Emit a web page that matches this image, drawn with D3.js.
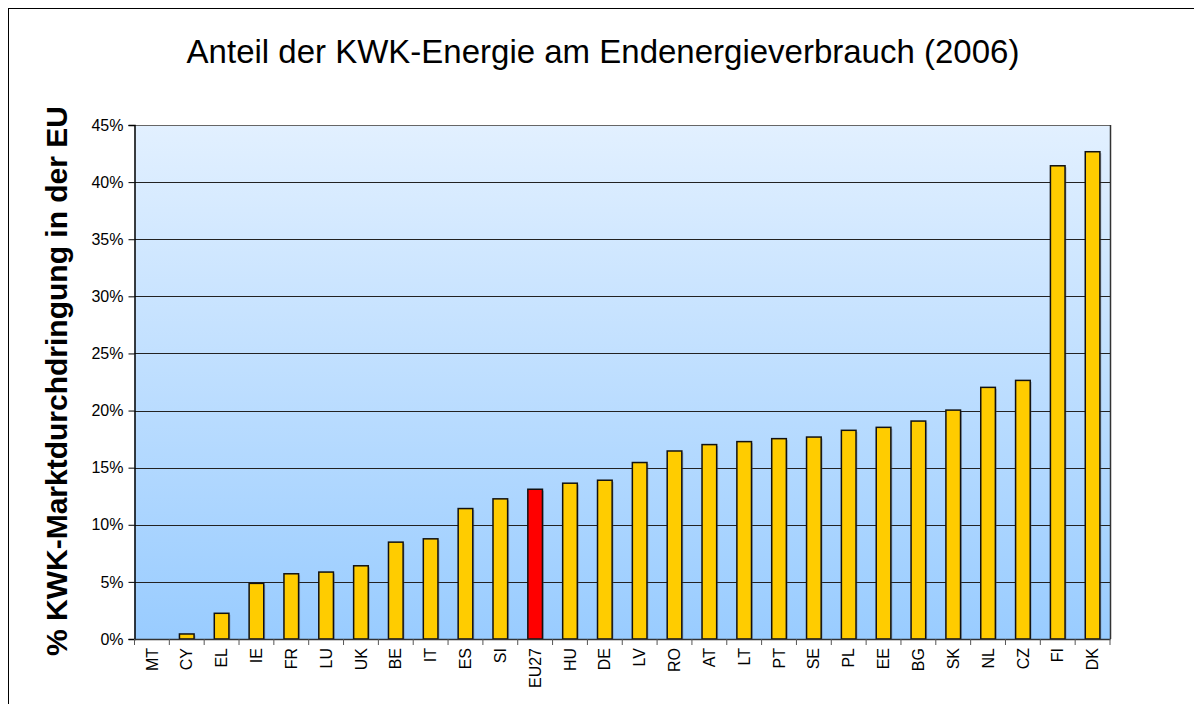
<!DOCTYPE html>
<html><head><meta charset="utf-8">
<script src="https://cdn.jsdelivr.net/npm/d3@7"></script>
<style>body{margin:0;background:#fff}svg{display:block}text{font-family:"Liberation Sans",Arial,sans-serif}</style>
</head><body><svg id="c" width="1194" height="704"></svg>
<script>
const categories = ["MT","CY","EL","IE","FR","LU","UK","BE","IT","ES","SI","EU27","HU","DE","LV","RO","AT","LT","PT","SE","PL","EE","BG","SK","NL","CZ","FI","DK"];
const values = [0,0.44,2.25,4.87,5.71,5.86,6.41,8.48,8.77,11.42,12.27,13.11,13.64,13.9,15.45,16.46,17.02,17.28,17.54,17.68,18.27,18.53,19.08,20.04,22.03,22.64,41.43,42.66];
const highlight = ["EU27"];
const yTicks = [0,5,10,15,20,25,30,35,40,45];
const title = "Anteil der KWK-Energie am Endenergieverbrauch (2006)";
const yTitle = "% KWK-Marktdurchdringung in der EU";

const svg = d3.select("#c");
const L=134.5, R=1110, T=125, B=639;
const x = d3.scaleBand().domain(categories).range([L,R]).paddingInner(0.58).paddingOuter(0.29);
const y = d3.scaleLinear().domain([0,45]).range([B,T]);

// outer frame
svg.append("rect").attr("x",8.5).attr("y",8.5).attr("width",1200).attr("height",720).attr("fill","none").attr("stroke","#000").attr("stroke-width",1);

const defs = svg.append("defs");
const g = defs.append("linearGradient").attr("id","bg").attr("x1",0).attr("y1",0).attr("x2",0).attr("y2",1);
g.append("stop").attr("offset","0%").attr("stop-color","#e2f0ff");
g.append("stop").attr("offset","100%").attr("stop-color","#99ccff");
svg.append("rect").attr("x",L).attr("y",T).attr("width",R-L).attr("height",B-T).attr("fill","url(#bg)");

// gridlines
svg.append("g").selectAll("line").data(yTicks.filter(d=>d>0&&d<45)).join("line")
  .attr("x1",L).attr("x2",R).attr("y1",d=>Math.round(y(d))+0.5).attr("y2",d=>Math.round(y(d))+0.5)
  .attr("stroke","#222").attr("stroke-width",1);
// plot border top/right
svg.append("line").attr("x1",L).attr("x2",R).attr("y1",T+0.5).attr("y2",T+0.5).attr("stroke","#666");
svg.append("line").attr("x1",R+0.5).attr("x2",R+0.5).attr("y1",T).attr("y2",B).attr("stroke","#333").attr("stroke-width",1.5);

// shadow + bars
svg.append("g").selectAll("rect").data(categories).join("rect")
  .attr("x",d=>x(d)+1.5).attr("y",(d,i)=>y(values[i])+1.5).attr("width",x.bandwidth())
  .attr("height",(d,i)=>Math.max(0,B-y(values[i])-1.5)).attr("fill","#556").attr("opacity",(d,i)=>values[i]>0?0.35:0);
svg.append("g").selectAll("rect").data(categories).join("rect")
  .attr("x",d=>x(d)).attr("y",(d,i)=>y(values[i])).attr("width",x.bandwidth())
  .attr("height",(d,i)=>B-y(values[i]))
  .attr("fill",d=>highlight.includes(d)?"#ff0000":"#ffcc00")
  .attr("stroke","#111").attr("stroke-width",(d,i)=>values[i]>0?1.5:0);

// y axis
const ya = svg.append("g").attr("transform",`translate(${L},0)`)
  .call(d3.axisLeft(y).tickValues(yTicks).tickFormat(d=>d+"%").tickSize(6).tickPadding(5));
ya.select(".domain").attr("stroke","#000").attr("stroke-width",1.5);
ya.selectAll(".tick line").attr("stroke","#000");
ya.selectAll("text").attr("font-size",16).attr("fill","#000").attr("font-family","Liberation Sans, Arial, sans-serif");

// x axis
const xa = svg.append("g").attr("transform",`translate(0,${B})`)
  .call(d3.axisBottom(x).tickSize(0).tickSizeOuter(0));
xa.select(".domain").attr("stroke","#333").attr("stroke-width",1.5);
xa.selectAll(".tick text").attr("font-size",16).attr("fill","#000").attr("font-family","Liberation Sans, Arial, sans-serif")
  .attr("transform","rotate(-90)").attr("text-anchor","end").attr("dy","0.35em").attr("x",-9).attr("y",0);
// band boundary ticks
const step = x.step();
const bounds = d3.range(categories.length+1).map(i=>x(categories[0]) - x.paddingOuter()*step + i*step);
svg.append("g").selectAll("line").data(bounds).join("line")
  .attr("x1",d=>d).attr("x2",d=>d).attr("y1",B).attr("y2",B+6).attr("stroke","#555").attr("stroke-width",1);

// titles
svg.append("text").attr("x",603).attr("y",63).attr("text-anchor","middle").attr("font-size",33).attr("fill","#000").text(title);
svg.append("text").attr("transform","translate(67,381) rotate(-90)").attr("text-anchor","middle")
  .attr("font-size",30).attr("font-weight","bold").attr("fill","#000").text(yTitle);
</script></body></html>
